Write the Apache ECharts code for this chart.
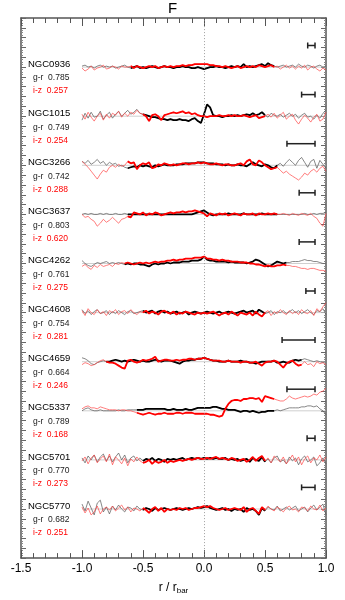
<!DOCTYPE html>
<html lang="en">
<head>
    <meta charset="UTF-8">
    <title>F</title>
    <style>
        *{ padding:0; margin:0; }
        html, body{ width:100%; height:100%; background:#fff; }
        #main{ width:345px; height:600px; }
    </style>
    <script src="https://cdn.jsdelivr.net/npm/echarts@6/dist/echarts.min.js"></script>
</head>
<body>
<div id="main"></div>
<script>
    // galaxies, top to bottom
    var names = ['NGC0936','NGC1015','NGC3266','NGC3637','NGC4262','NGC4608','NGC4659','NGC5337','NGC5701','NGC5770'];
    var grColors = ['0.785','0.749','0.742','0.803','0.761','0.754','0.664','0.789','0.770','0.682'];
    var izColors = ['0.257','0.254','0.288','0.620','0.275','0.281','0.246','0.168','0.273','0.251'];
    // width of the error bar (in r/rbar), its right end is at 0.91
    var errWidth = [0.06, 0.11, 0.23, 0.13, 0.13, 0.075, 0.27, 0.23, 0.065, 0.11];
    // r/rbar range drawn with the thick line
    var barLo = [-0.62, -0.5, -0.63, -0.63, -0.67, -0.5, -0.8, -0.57, -0.52, -0.5];
    var barHi = [0.58, 0.5, 0.6, 0.62, 0.68, 0.5, 0.8, 0.58, 0.52, 0.5];

    // profiles sampled every 0.025 in r/rbar from -1 to 1 (offset from each panel's zero line)
    var grProf = [
        [1,2,0,1,-1,1,2,0,1,0, 1,-1,0,1,2,0,-1,0,1,-1, 0,-1,0,1,0,-1,0,1,0,0, -1,0,0,1,0,0,-1,-1,0,-1,
         -2,-1,0,0,1,0,0,-1,0,1, 0,1,0,3,0,1,0,1,2,3, 1,4,2,1,0,1,2,0,1,2, 0,3,1,0,2,1,-1,1,2,0, 1],
        [-4,3,-2,4,-1,0,5,-3,1,4, -2,2,5,0,3,6,2,4,7,3, 2,1,0,-1,-1,-2,-3,-3,-4,-3, -4,-4,-3,-4,-4,-5,-3,-2,-5,-7,
         2,12,9,1,0,0,-1,0,0,1, 0,1,0,1,2,1,3,1,2,4, 1,-1,3,1,0,2,-1,1,3,0, 2,-2,1,3,-1,0,-3,1,-2,3, 6],
        [4,2,5,1,3,6,2,4,0,3, 1,2,-1,0,-2,-3,-2,-1,-2,0, -1,0,-1,-2,0,-1,0,1,0,0, 0,1,1,1,2,2,2,2,3,3,
         3,2,2,2,1,1,1,0,1,0, 0,1,0,0,-1,1,3,1,0,-1, 1,0,-2,-3,0,2,-1,3,6,3, 0,5,8,3,-2,4,6,-3,5,1, -3],
        [0,1,0,1,0,0,1,0,1,0, 0,1,0,0,1,0,0,0,0,0, 0,0,0,0,0,0,0,0,0,0, 0,0,0,0,0,0,0,1,2,3,
         4,2,0,-1,0,0,0,0,1,0, 0,0,0,1,0,0,0,0,0,1, 0,0,0,0,0,0,0,0,0,0, 0,0,0,1,0,0,1,0,1,1, 2],
        [3,0,-2,-3,-1,1,0,1,2,0, 1,0,1,0,-1,0,-1,0,0,-1, -1,-2,-3,-1,0,-1,0,0,1,0, 1,1,1,2,2,2,3,3,3,4,
         7,4,3,3,2,2,2,2,1,2, 1,1,1,1,0,1,2,4,3,1, -1,-3,-2,0,2,1,0,1,1,2, 2,2,3,4,3,3,2,2,1,0, 0],
        [3,-1,2,-2,1,3,-1,0,2,-2, 1,-1,2,0,-2,1,2,-1,0,1, 2,0,1,2,-1,1,2,0,1,-1, 0,1,-1,0,1,-2,0,1,0,-1,
         0,1,0,-1,0,1,-1,0,1,0, -1,0,1,2,0,1,2,-1,3,1, -1,0,2,-2,1,0,2,-1,1,3, 0,2,-1,1,3,0,-2,2,1,4, -2],
        [4,3,1,-2,-3,-1,0,1,0,0, 1,2,1,0,1,0,1,2,1,0, 1,0,0,1,2,1,0,1,1,1, 0,-1,-2,0,1,1,2,2,3,3,
         4,3,2,1,1,0,0,0,1,0, 0,0,1,0,0,-1,-1,-2,-1,0, 0,0,0,1,-1,-1,0,-1,-1,1, 2,1,2,3,2,1,0,1,0,-1, 0],
        [0,2,3,1,0,0,1,0,0,0, 0,0,1,0,0,1,1,1,1,1, 1,2,2,2,2,2,2,2,1,1, 2,1,1,1,2,1,1,2,3,3,
         3,3,3,4,4,3,2,2,1,1, 1,0,-1,0,0,-1,0,-1,-2,-1, -1,0,0,0,1,0,1,2,3,3, 3,3,4,4,5,5,4,5,2,0, -4],
        [2,-3,4,0,5,-2,3,6,-1,4, -2,3,7,0,5,-3,2,4,-1,2, -1,1,0,2,-1,1,0,-2,1,0, 1,0,1,2,0,1,2,1,2,1,
         2,1,2,1,2,1,1,2,0,1, 0,1,-1,0,1,-2,2,0,-1,3, -2,1,-3,2,4,-2,0,-4,3,-1, 2,-5,1,4,-2,0,3,-6,-3,2, -4],
        [5,-2,8,1,-6,6,9,-3,2,-5, 3,-1,4,0,-3,2,1,-2,3,0, -1,1,0,-2,1,-1,0,1,0,-1, 0,1,0,-1,0,1,0,1,2,1,
         2,3,1,0,-1,0,1,-1,0,-2, 0,-1,0,-3,1,-1,0,-2,-6,1, -2,2,0,-1,3,-2,0,2,-1,1, 3,-2,0,2,-3,1,4,-1,2,5, -6]
    ];
    var izProf = [
        [-1,-4,-2,1,-3,-1,0,2,-2,-1, 1,0,-2,1,0,0,1,-1,1,0, -1,0,1,0,1,-1,0,1,0,1, 0,1,1,2,1,2,2,3,3,3,
         3,3,2,2,1,1,0,1,0,-1, 0,1,-1,0,1,0,1,0,2,1, 0,1,2,0,1,-2,0,2,-1,1, -2,1,-1,2,-3,0,1,-2,-4,-1, -3],
        [2,-3,4,-1,-5,0,3,-4,2,-2, 3,1,5,-1,3,0,4,2,6,3, 2,0,-5,1,2,0,-4,1,2,3, 4,3,4,5,3,4,2,3,1,0,
         0,-1,0,0,0,1,0,0,1,0, 1,0,0,1,0,-1,0,1,-2,-1, 0,2,-1,3,-2,1,4,-3,0,2, -4,-8,-3,1,-2,-6,-1,2,-5,-3, 4],
        [4,1,-2,-6,-10,-14,-9,-5,-7,-2, 0,-2,1,-1,0,4,2,3,-4,0, 2,1,3,-3,-2,1,0,2,1,0, 1,0,1,2,2,1,2,2,3,2,
         3,2,1,1,2,1,0,1,1,0, 0,1,2,0,4,6,1,0,5,3, 0,-2,-4,-3,-2,-5,-8,-6,-9,-11, -13,-15,-12,-8,-10,-6,-4,-7,-3,-1, -6],
        [0,-3,-2,-5,-7,-12,-9,-5,-8,-6, -3,-6,-9,-5,-4,-2,-3,2,1,0, 2,-1,1,0,2,1,-1,0,1,2, 1,2,2,3,2,3,3,4,3,2,
         1,-2,1,0,-1,1,0,1,-1,0, 1,0,-1,1,0,0,1,-1,1,0, 0,1,0,1,0,0,1,0,-1,1, 0,-1,1,0,-1,1,-2,-4,-9,-12, 1],
        [-3,-1,-4,-6,-2,-4,-1,-3,-2,-1, -3,0,-1,1,0,1,0,-1,0,1, 0,1,0,1,2,1,2,2,3,3, 4,3,4,4,5,5,5,6,6,6,
         7,5,5,4,4,3,4,3,3,2, 2,2,1,1,1,0,0,-1,-1,-2, -3,-2,-3,-3,-2,-2,-1,-2,-2,-3, -3,-4,-5,-5,-6,-5,-5,-6,-7,-7, -8],
        [2,-3,4,0,-2,3,-1,1,-3,2, 0,3,-2,1,2,-1,3,0,-2,1, 0,2,-1,1,0,-2,1,2,0,-1, 1,-2,0,-1,1,0,-1,-2,0,-1,
         0,-1,0,1,-1,-3,-1,0,-2,1, -1,-3,0,-1,-2,0,-3,1,-2,-4, 0,2,-3,1,-1,3,0,-2,2,-1, 1,-2,3,0,-1,2,-3,4,1,6, 10],
        [-3,-1,-2,-4,-3,-1,1,2,0,-1, -1,-2,-4,-6,-7,1,2,0,-1,0, 2,1,2,3,5,0,1,2,2,1, 1,2,1,2,2,3,3,2,3,3,
         4,3,2,1,1,1,0,0,1,0, 0,0,-1,0,0,-1,-1,0,-2,-4, -1,0,0,1,0,-3,-6,-2,0,1, -2,-4,-3,0,-3,-2,-5,0,-2,-1, -3],
        [2,4,5,3,3,2,4,3,2,1, 1,1,0,1,1,0,0,-1,-2,-3, -4,-3,-2,-3,-4,-3,-3,-2,-3,-3, -3,-2,-2,-3,-2,-2,-2,-3,-3,-3,
         -3,-3,-4,-4,-5,-6,-5,2,7,10, 11,11,10,12,12,13,13,12,13,9, 15,14,13,12,11,10,10,12,15,13, 12,13,14,15,14,15,17,16,19,20, 23],
        [-1,3,-4,2,5,-3,1,4,-2,6, -5,3,0,-4,2,-6,1,-2,3,-1, -3,-2,0,-4,-1,-3,-2,0,-3,-1, -2,-1,0,-1,0,1,0,1,2,1,
         1,2,1,2,3,1,2,1,0,2, 1,-1,0,1,-2,0,3,-1,2,4, -1,2,-3,4,1,-2,3,-4,0,5, -2,3,-5,1,4,-3,2,0,5,-2, 3],
        [2,-4,1,-6,-3,3,-5,0,2,-1, 3,-2,1,4,-1,2,-3,1,0,-2, 1,-1,-4,0,2,-2,1,-3,0,-1, 0,-1,1,0,1,-1,0,1,1,2,
         3,2,3,1,0,-1,0,1,-1,0, 1,0,-1,2,-3,0,1,-2,-5,2, -1,3,0,-2,2,0,-3,1,3,-1, 0,-3,2,1,-2,3,0,-1,4,-2, 1]
    ];

    var myChart = echarts.init(document.getElementById('main'));
    var FONT = '"Liberation Sans", Arial, sans-serif';

    function panelBase(k){ return 500 - 50 * k; }
    function radius(i){ return -1 + i * 0.025; }

    var series = [];
    names.forEach(function(name, k){
        var base = panelBase(k);
        var gr = grProf[k].map(function(v, i){ return [radius(i), base + v]; });
        var iz = izProf[k].map(function(v, i){ return [radius(i), base + v]; });
        var inBar = function(p){ return p[0] >= barLo[k] - 1e-6 && p[0] <= barHi[k] + 1e-6; };
        series.push({
            type: 'line', silent: true, symbol: 'none', animation: false,
            data: [[-1, base], [1, base]],
            lineStyle: { color: '#c4c4c4', width: 0.8 },
            z: 1
        });
        series.push({
            type: 'line', silent: true, symbol: 'none', animation: false, data: gr,
            lineStyle: { color: '#555', width: 0.7 }, z: 2
        });
        series.push({
            type: 'line', silent: true, symbol: 'none', animation: false, data: iz,
            lineStyle: { color: '#ff4545', width: 0.7 }, z: 2
        });
        series.push({
            type: 'line', silent: true, symbol: 'none', animation: false, data: gr.filter(inBar),
            lineStyle: { color: '#000', width: 1.8 }, z: 3
        });
        series.push({
            type: 'line', silent: true, symbol: 'none', animation: false, data: iz.filter(inBar),
            lineStyle: { color: '#ff0000', width: 1.8 }, z: 4
        });
    });

    // dotted line at r = 0
    series[0].markLine = {
        silent: true, symbol: 'none', animation: false,
        label: { show: false },
        lineStyle: { color: '#888', type: [1, 2], width: 0.8 },
        data: [{ xAxis: 0 }]
    };

    // error bars
    series.push({
        type: 'custom', silent: true, animation: false, z: 5,
        data: names.map(function(n, k){ return [0.91 - errWidth[k], 0.91, panelBase(k) + 22]; }),
        renderItem: function(params, api){
            var a = api.coord([api.value(0), api.value(2)]);
            var b = api.coord([api.value(1), api.value(2)]);
            var st = { stroke: '#222', lineWidth: 1.5 };
            return { type: 'group', children: [
                { type: 'line', shape: { x1: a[0], y1: a[1], x2: b[0], y2: b[1] }, style: st },
                { type: 'line', shape: { x1: a[0], y1: a[1] - 3, x2: a[0], y2: a[1] + 3 }, style: st },
                { type: 'line', shape: { x1: b[0], y1: b[1] - 3, x2: b[0], y2: b[1] + 3 }, style: st }
            ]};
        }
    });

    // galaxy names and colours
    series.push({
        type: 'custom', silent: true, animation: false, z: 6,
        data: names.map(function(n, k){ return [-1.5, panelBase(k), k]; }),
        renderItem: function(params, api){
            var k = api.value(2);
            var p = api.coord([api.value(0), api.value(1)]);
            return { type: 'group', children: [
                { type: 'text', x: p[0] + 7, y: p[1] - 3,
                  style: { text: names[k], fill: '#000', font: '9.5px ' + FONT, align: 'left', verticalAlign: 'middle' } },
                { type: 'text', x: p[0] + 12, y: p[1] + 11,
                  style: { text: 'g-r  ' + grColors[k], fill: '#222', font: '8.5px ' + FONT, align: 'left', verticalAlign: 'middle' } },
                { type: 'text', x: p[0] + 12, y: p[1] + 24,
                  style: { text: 'i-z  ' + izColors[k], fill: '#ff0000', font: '8.5px ' + FONT, align: 'left', verticalAlign: 'middle' } }
            ]};
        }
    });

    var frameLine = { show: true, onZero: false, lineStyle: { color: '#555', width: 1.5 } };
    var xTick = { show: true, inside: true, length: 8, lineStyle: { color: '#555', width: 1 } };
    var xMinor = { show: true, splitNumber: 5, length: 5, lineStyle: { color: '#555', width: 1 } };
    var yTick = { show: true, inside: true, length: 5, lineStyle: { color: '#666', width: 1 } };
    var yMinor = { show: true, splitNumber: 4, length: 2, lineStyle: { color: '#888', width: 1 } };

    var option = {
        backgroundColor: '#fff',
        animation: false,
        title: {
            text: 'F', left: 'center', top: -4,
            textStyle: { fontFamily: FONT, fontWeight: 'normal', fontSize: 15, color: '#000' }
        },
        grid: { left: 21, right: 19, top: 18, bottom: 39 },
        xAxis: [{
            type: 'value', min: -1.5, max: 1, interval: 0.5, position: 'bottom',
            axisLine: frameLine, axisTick: xTick, minorTick: xMinor,
            splitLine: { show: false },
            axisLabel: {
                color: '#000', fontSize: 12, fontFamily: FONT, margin: 5,
                formatter: function(v){ return v.toFixed(1); }
            },
            name: 'r / r{sub|bar}', nameLocation: 'middle', nameGap: 15,
            nameTextStyle: {
                color: '#000', fontSize: 12, fontFamily: FONT, lineHeight: 14,
                rich: { sub: { fontSize: 8, fontFamily: FONT, color: '#000', lineHeight: 14, padding: [7, 0, 0, 0] } }
            }
        }, {
            type: 'value', min: -1.5, max: 1, interval: 0.5, position: 'top',
            axisLine: frameLine, axisTick: xTick, minorTick: xMinor,
            splitLine: { show: false }, axisLabel: { show: false }
        }],
        yAxis: [{
            type: 'value', min: 0, max: 550, interval: 10, position: 'left',
            axisLine: frameLine, axisTick: yTick, minorTick: yMinor,
            splitLine: { show: false }, axisLabel: { show: false }
        }, {
            type: 'value', min: 0, max: 550, interval: 10, position: 'right',
            axisLine: frameLine, axisTick: yTick, minorTick: yMinor,
            splitLine: { show: false }, axisLabel: { show: false }
        }],
        series: series
    };
    myChart.setOption(option);
</script>
</body>
</html>
